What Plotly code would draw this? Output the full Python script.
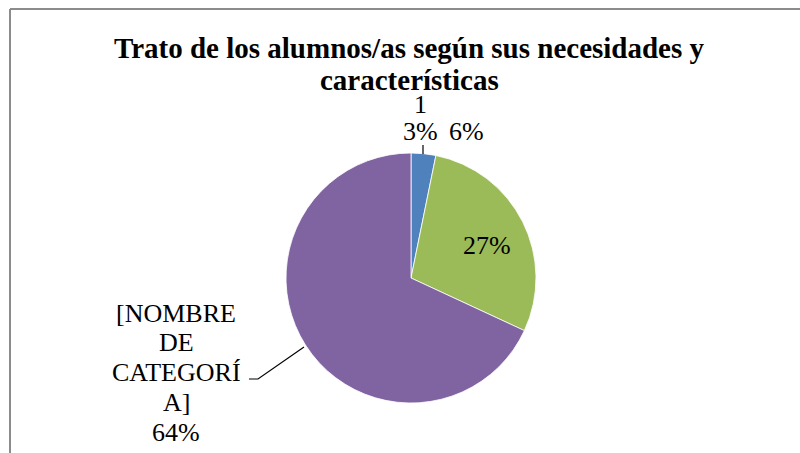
import plotly.graph_objects as go

# Data
slice_names = ["1", "2", "[NOMBRE DE CATEGORÍA]"]
slice_values = [3, 27, 64]
slice_colors = ["#4F81BD", "#9BBB59", "#8064A2"]
label_first = ["1", "3%"]
label_second = "27%"
label_third = ["[NOMBRE", "DE", "CATEGORÍ", "A]", "64%"]
extra_label = "6%"
title_lines = ["Trato de los alumnos/as según sus necesidades y", "características"]

W, H = 800, 453
FONT = "Liberation Serif"


def px(x):
    return x / W


def py(y):
    return 1 - y / H


cx, cy, R = 411, 278, 125

fig = go.Figure(
    go.Pie(
        labels=slice_names,
        values=slice_values,
        marker=dict(colors=slice_colors, line=dict(color="white", width=0.8)),
        sort=False,
        direction="clockwise",
        rotation=0,
        textinfo="none",
        hoverinfo="label+percent",
        domain=dict(x=[px(cx - R), px(cx + R)], y=[py(cy + R), py(cy - R)]),
        showlegend=False,
    )
)

LBL = dict(size=26, family=FONT, color="black")
TTL = dict(size=29, family=FONT, color="black")

annotations = []
for i, line in enumerate(title_lines):
    annotations.append(dict(text="<b>" + line + "</b>", x=px(409), y=py(48 + 32 * i), font=TTL))
for i, line in enumerate(label_first):
    annotations.append(dict(text=line, x=px(420), y=py(104 + 28 * i), font=LBL))
annotations.append(dict(text=extra_label, x=px(466), y=py(132), font=LBL))
annotations.append(dict(text=label_second, x=px(487), y=py(245), font=LBL))
for i, line in enumerate(label_third):
    annotations.append(dict(text=line, x=px(176), y=py(313 + 29.8 * i), font=LBL))
for a in annotations:
    a.update(xref="paper", yref="paper", showarrow=False, xanchor="center", yanchor="middle")

line_style = dict(color="black", width=1.2)
border = dict(color="#8c8c8c", width=2)
shapes = [
    dict(type="line", x0=px(10), y0=py(9), x1=px(800), y1=py(9), line=border),
    dict(type="line", x0=px(10), y0=py(9), x1=px(10), y1=py(453), line=border),
    dict(type="line", x0=px(423), y0=py(145), x1=px(423), y1=py(154), line=line_style),
    dict(type="path", path=f"M {px(249)},{py(379)} L {px(258)},{py(379)} L {px(304)},{py(347)}",
         line=line_style),
]
for s in shapes:
    s.update(xref="paper", yref="paper")

fig.update_layout(
    width=W, height=H,
    margin=dict(l=0, r=0, t=0, b=0),
    paper_bgcolor="white",
    plot_bgcolor="white",
    font=dict(family=FONT),
    annotations=annotations,
    shapes=shapes,
)

fig.write_html(
    "out.html",
    config={"displayModeBar": False},
    post_script="document.body.style.margin='0';document.body.style.overflow='hidden';",
)
